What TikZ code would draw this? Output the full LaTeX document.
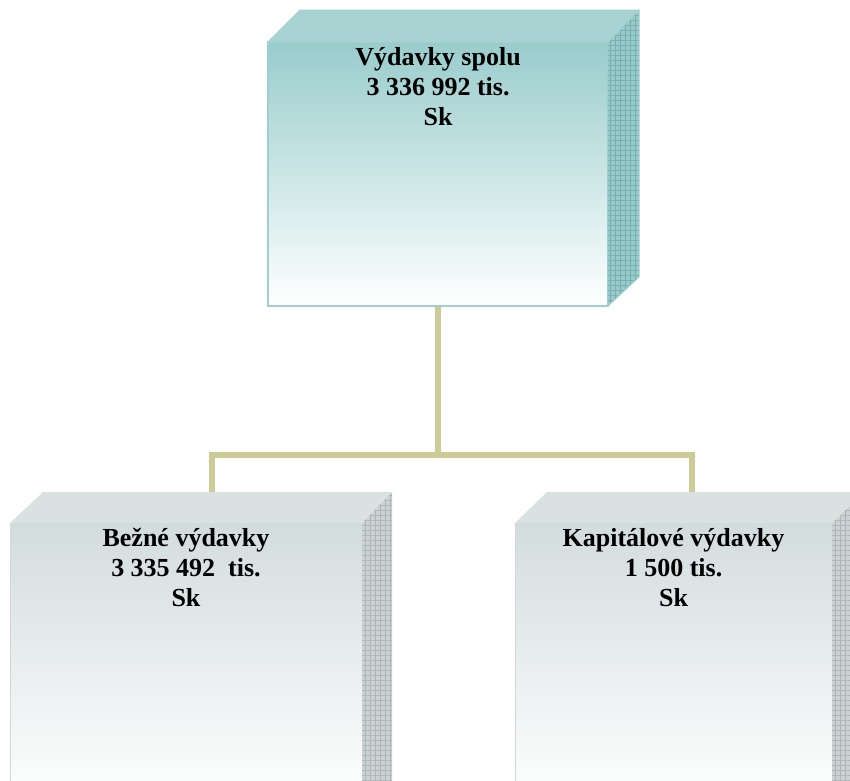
\documentclass[tikz,border=0pt]{standalone}
\usepackage{fontspec}
\setmainfont{Liberation Serif}
\usetikzlibrary{patterns.meta}
\definecolor{tealtop}{HTML}{99CCCC}
\definecolor{tealedge}{HTML}{9ED0D0}
\definecolor{tealside}{HTML}{98CACA}
\definecolor{tealroof}{HTML}{A6D3D3}
\definecolor{tealmesh}{HTML}{78AEAE}
\definecolor{greytop}{HTML}{D3DCDD}
\definecolor{greyside}{HTML}{CBD2D3}
\definecolor{greyroof}{HTML}{D9E1E1}
\definecolor{greymesh}{HTML}{AEB5B5}
\definecolor{greyedge}{HTML}{D0D8D9}
\definecolor{linkcol}{HTML}{CDCB96}
\tikzset{
  frontbox/.style={minimum width=#1, inner sep=0pt, outer sep=0pt},
  label3d/.style={anchor=north, align=center, inner sep=0pt,
    font=\fontsize{26pt}{30pt}\selectfont\bfseries},
  link/.style={draw=linkcol, line width=6pt},
  meshA/.style={pattern={Lines[distance=5pt,angle=0,line width=0.35pt]}, pattern color=#1},
  meshB/.style={pattern={Lines[distance=5pt,angle=90,line width=0.35pt]}, pattern color=#1},
}
\begin{document}
\begin{tikzpicture}[x=1pt,y=-1pt]
\useasboundingbox (0,0) rectangle (850,780);
\clip (0,0) rectangle (850,780);
% connectors (behind boxes)
\coordinate (hub) at (438,455);
\coordinate (lend) at (212,495);
\coordinate (rend) at (692,495);
% ---------- top box ----------
\node[frontbox=340pt, minimum height=264pt] (top) at (438,174) {};
\draw[link] (top.south) -- (hub);
\draw[link] (lend) |- (hub) -| (rend);
\shade[top color=tealtop, bottom color=white] (top.north west) rectangle (top.south east);
\draw[tealedge, line width=1.5pt] (top.north west) rectangle (top.south east);
\fill[tealside] (top.north east) -- ++(31,-32) -- ++(0,267) -- (top.south east) -- cycle;
\fill[meshA=tealmesh] (top.north east) -- ++(31,-32) -- ++(0,267) -- (top.south east) -- cycle;
\fill[meshB=tealmesh] (top.north east) -- ++(31,-32) -- ++(0,267) -- (top.south east) -- cycle;
\draw[tealedge, line width=1pt] (top.north east) -- ++(31,-32) -- ++(0,267) -- (top.south east);
\fill[tealroof] (top.north west) -- ++(32,-32) -- ++(339,0) -- (top.north east) -- cycle;
\fill[meshA=tealtop!85!black!60!white] (top.north west) -- ++(32,-32) -- ++(339,0) -- (top.north east) -- cycle;
\draw[tealedge, line width=1pt] (top.north west) -- ++(32,-32) -- ++(339,0);
\node[label3d] (toptext) at (438,47) {Výdavky spolu\\3 336 992 tis.\\Sk};
% ---------- bottom left box ----------
\node[frontbox=352pt, minimum height=280pt] (left) at (186,663) {};
\shade[top color=greytop, bottom color=white] (left.north west) rectangle (left.south east);
\draw[greyedge, line width=1pt] (left.south west) -- (left.north west);
\fill[greyside] (left.north east) -- ++(30,-31) -- ++(0,300) -- (left.south east) -- cycle;
\fill[meshA=greymesh] (left.north east) -- ++(30,-31) -- ++(0,300) -- (left.south east) -- cycle;
\fill[meshB=greymesh] (left.north east) -- ++(30,-31) -- ++(0,300) -- (left.south east) -- cycle;
\fill[greyroof] (left.north west) -- ++(33,-31) -- ++(349,0) -- (left.north east) -- cycle;
\node[label3d] (lefttext) at (186,528) {Bežné výdavky\\3 335 492~ tis.\\Sk};
% ---------- bottom right box ----------
\node[frontbox=317pt, minimum height=280pt] (right) at (673.5,663) {};
\shade[top color=greytop, bottom color=white] (right.north west) rectangle (right.south east);
\draw[greyedge, line width=1pt] (right.south west) -- (right.north west);
\fill[greyside] (right.north east) -- ++(32,-31) -- ++(0,300) -- (right.south east) -- cycle;
\fill[meshA=greymesh] (right.north east) -- ++(32,-31) -- ++(0,300) -- (right.south east) -- cycle;
\fill[meshB=greymesh] (right.north east) -- ++(32,-31) -- ++(0,300) -- (right.south east) -- cycle;
\fill[greyroof] (right.north west) -- ++(32,-31) -- ++(317,0) -- (right.north east) -- cycle;
\node[label3d] (righttext) at (673.5,528) {Kapitálové výdavky\\1 500 tis.\\Sk};
\end{tikzpicture}
\end{document}
